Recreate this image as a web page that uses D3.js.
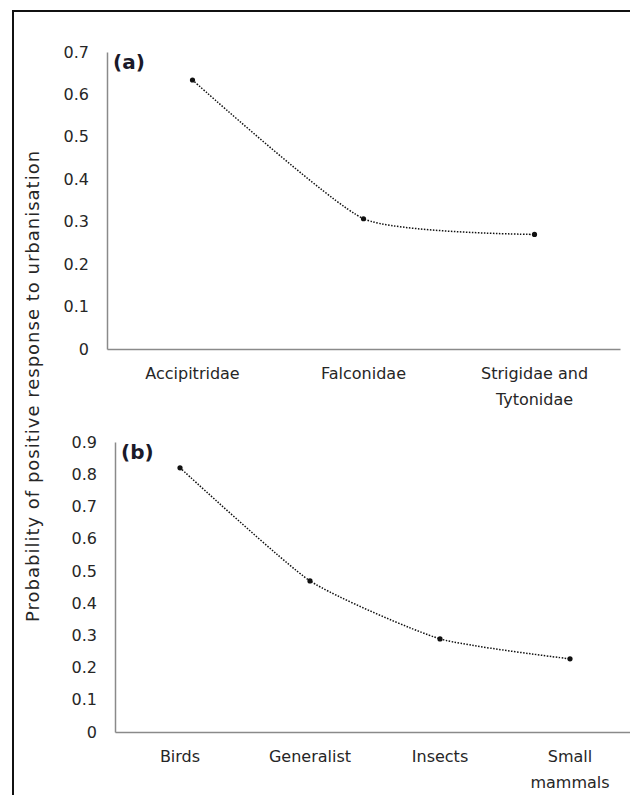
<!DOCTYPE html>
<html>
<head>
<meta charset="utf-8">
<script src="https://cdn.jsdelivr.net/npm/d3@7"></script>
<style>
  body { margin: 0; background: #fff; }
  text { font-family: "DejaVu Sans", sans-serif; fill: #262626; }
</style>
</head>
<body>
<div id="chart"><svg></svg></div>
<script>
var width = 630, height = 795;

// panel (a)
var catsA = ["Accipitridae", "Falconidae", "Strigidae and Tytonidae"];
var valsA = [0.634, 0.307, 0.270];
var ticksA = [0, 0.1, 0.2, 0.3, 0.4, 0.5, 0.6, 0.7];

// panel (b)
var catsB = ["Birds", "Generalist", "Insects", "Small mammals"];
var valsB = [0.820, 0.469, 0.289, 0.227];
var ticksB = [0, 0.1, 0.2, 0.3, 0.4, 0.5, 0.6, 0.7, 0.8, 0.9];

var yTitle = "Probability of positive response to urbanisation";

var svg = d3.select("#chart").select("svg")
    .attr("width", width)
    .attr("height", height);

svg.append("rect")
    .attr("width", width).attr("height", height)
    .attr("fill", "#fff");

// outer frame (cut off at right and bottom like the source)
svg.append("rect")
    .attr("x", 13).attr("y", 11)
    .attr("width", 700).attr("height", 900)
    .attr("fill", "none")
    .attr("stroke", "#111")
    .attr("stroke-width", 2);

svg.append("text")
    .attr("transform", "translate(39,386) rotate(-90)")
    .attr("text-anchor", "middle")
    .style("font-size", "18px")
    .style("letter-spacing", "1px")
    .text(yTitle);

function fmt(d) { return d === 0 ? "0" : d3.format(".1f")(d); }

function wrap(sel, w) {
  sel.each(function() {
    var t = d3.select(this);
    var words = t.text().split(/\s+/);
    t.text(null);
    var line = [];
    var tspan = t.append("tspan").attr("x", 0).attr("dy", "0.71em");
    words.forEach(function(word) {
      line.push(word);
      tspan.text(line.join(" "));
      if (tspan.node().getComputedTextLength() > w && line.length > 1) {
        line.pop();
        tspan.text(line.join(" "));
        line = [word];
        tspan = t.append("tspan").attr("x", 0).attr("dy", "1.6em").text(word);
      }
    });
  });
}

function panel(cats, vals, ticks, x0, x1, yTop, yBottom, tag) {
  var x = d3.scaleBand().domain(cats).range([x0, x1]);
  var y = d3.scaleLinear().domain([0, d3.max(ticks)]).range([yBottom, yTop]);
  var cx = function(d, i) { return x(cats[i]) + x.bandwidth() / 2; };

  var ya = svg.append("g")
      .attr("transform", "translate(" + x0 + ",0)")
      .call(d3.axisLeft(y).tickValues(ticks).tickFormat(fmt).tickSize(0).tickPadding(18));
  ya.selectAll("text").style("font-size", "16px");
  ya.select(".domain").attr("stroke", "#8a8a8a").attr("stroke-width", 1.5);

  var xa = svg.append("g")
      .attr("transform", "translate(0," + yBottom + ")")
      .call(d3.axisBottom(x).tickSize(0).tickPadding(19).tickSizeOuter(0));
  xa.select(".domain").attr("stroke", "#8a8a8a").attr("stroke-width", 1.5);
  xa.selectAll("text").style("font-size", "16px").attr("dy", null).call(wrap, x.bandwidth() * 0.72);

  svg.append("path")
      .datum(vals)
      .attr("fill", "none")
      .attr("stroke", "#111")
      .attr("stroke-width", 1.5)
      .attr("stroke-dasharray", "1.5,1.5")
      .attr("d", d3.line()
          .x(cx)
          .y(function(d) { return y(d); })
          .curve(d3.curveCardinal.tension(0.45)));

  svg.selectAll(null)
      .data(vals)
      .enter().append("circle")
      .attr("cx", cx)
      .attr("cy", function(d) { return y(d); })
      .attr("r", 2.6)
      .attr("fill", "#111");

  svg.append("text")
      .attr("x", x0 + 6)
      .attr("y", yTop + 17)
      .style("font-size", "20px")
      .style("font-weight", "bold")
      .style("fill", "#1a1a2a")
      .text(tag);
}

panel(catsA, valsA, ticksA, 107, 620, 52, 349, "(a)");
panel(catsB, valsB, ticksB, 115, 635, 442, 732, "(b)");
</script>
</body>
</html>
